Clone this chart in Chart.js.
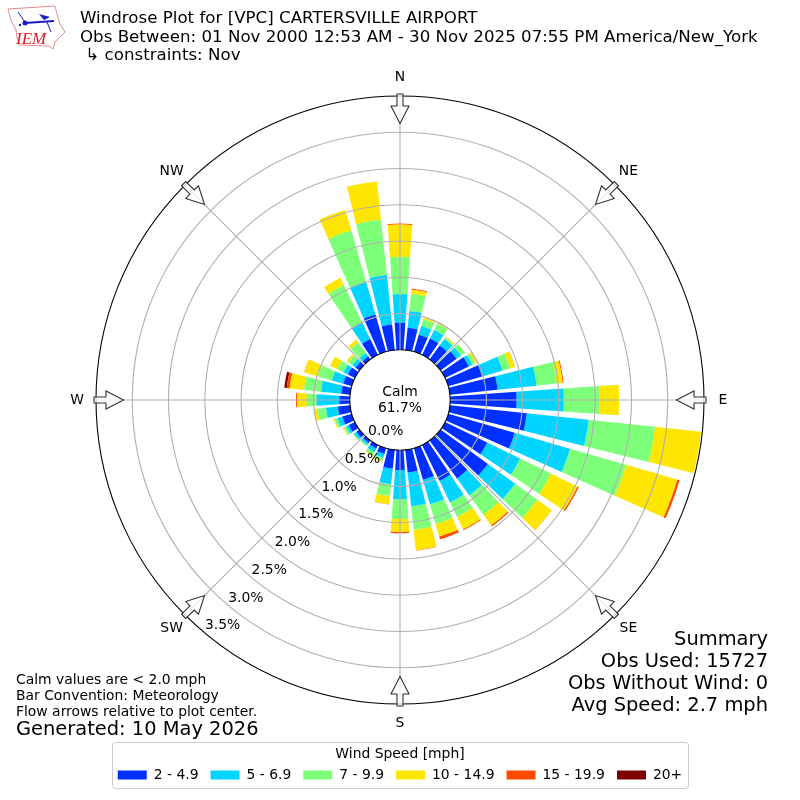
<!DOCTYPE html>
<html>
<head>
<meta charset="utf-8">
<title>Windrose</title>
<script src="https://cdn.jsdelivr.net/npm/chart.js@4"></script>
<style>
  html, body { margin: 0; padding: 0; background: #fff; }
  canvas { display: block; }
</style>
</head>
<body>
<canvas id="rose" width="800" height="800"></canvas>
<script>
// directions, every 10 degrees clockwise from north
var directions = [0,10,20,30,40,50,60,70,80,90,100,110,120,130,140,150,160,170,180,190,200,210,220,230,240,250,260,270,280,290,300,310,320,330,340,350];

// percent of observations per speed bin
var speed2 = [.373,.309,.245,.252,.238,.273,.362,.485,.661,.916,1.065,.952,.645,.807,.645,.548,.452,.314,.273,.259,.080,.052,.039,.052,.094,.135,.169,.145,.121,.121,.107,.066,.052,.245,.534,.355];
var speed5 = [.395,.234,.124,.131,.110,.077,.056,.292,.539,.651,.858,.795,.506,.466,.289,.331,.353,.468,.404,.216,.055,.055,.034,.041,.041,.069,.165,.311,.282,.165,.069,.055,.055,.248,.468,.686];
var speed7 = [.514,.234,.096,.096,.021,.067,.047,.106,.281,.496,.919,.804,.472,.377,.331,.220,.281,.324,.271,.164,.041,.041,.021,.014,.028,.041,.117,.138,.234,.198,.096,.069,.179,.579,.737,.766];
var speed10 = [.446,.061,.021,.014,.014,.004,.028,.072,.080,.266,.640,.733,.406,.240,.179,.193,.179,.282,.179,.116,.021,.014,.003,.003,.014,.014,.055,.134,.200,.197,.110,.028,.048,.110,.296,.532];
var speed15 = [.014,.014,.003,.003,.003,0,.004,.003,.014,0,0,.034,.021,.004,.021,.014,.041,.007,.018,.003,0,0,0,0,0,0,0,.014,.041,.004,0,0,0,0,0,0];
var speed20 = [0,0,0,0,0,0,0,0,0,0,0,0,0,0,0,0,0,0,0,0,0,0,0,0,0,0,0,0,.034,0,0,0,0,0,0,0];

var binNames = ["2 - 4.9", "5 - 6.9", "7 - 9.9", "10 - 14.9", "15 - 19.9", "20+"];
var binColors = ["#0030ff", "#00d4ff", "#7dff7a", "#ffe600", "#ff4a00", "#7f0000"];
var binValues = [speed2, speed5, speed7, speed10, speed15, speed20];

var ringValues = [0, 0.5, 1, 1.5, 2, 2.5, 3, 3.5];
var compass = ["N", "NE", "E", "SE", "S", "SW", "W", "NW"];

var titleLines = [
  "Windrose Plot for [VPC] CARTERSVILLE AIRPORT",
  "Obs Between: 01 Nov 2000 12:53 AM - 30 Nov 2025 07:55 PM America/New_York",
  " \u21b3 constraints: Nov"
];
var noteLines = ["Calm values are < 2.0 mph", "Bar Convention: Meteorology", "Flow arrows relative to plot center."];
var summaryLines = ["Summary", "Obs Used: 15727", "Obs Without Wind: 0", "Avg Speed: 2.7 mph"];

var axisMin = -0.692;
var barAngle = 8;
var gapAngle = 2;
var fontName = '"DejaVu Sans"';

// every direction gets a bar slot and a gap slot
var labels = [];
directions.forEach(function (d) { labels.push(d + "", ""); });

var running = directions.map(function () { return 0; });
var datasets = binValues.map(function (vals, b) {
  var data = [];
  vals.forEach(function (v, i) {
    running[i] += v;
    data.push(running[i], axisMin);
  });
  return {
    label: binNames[b],
    data: data,
    backgroundColor: binColors[b],
    borderWidth: 0,
    angle: function (ctx) { return ctx.index % 2 ? gapAngle : barAngle; }
  };
});

function text(c, str, x, y, size, align) {
  c.font = size + "px " + fontName;
  c.textAlign = align || "left";
  c.textBaseline = "middle";
  c.fillStyle = "#000";
  c.fillText(str, x, y);
}

// turn the overlapping wedges into real stacked bars
var stackBars = {
  id: "stackBars",
  afterDatasetsUpdate: function (chart) {
    var r = chart.scales.r;
    var prev = null;
    chart.data.datasets.forEach(function (ds, i) {
      var arcs = chart.getDatasetMeta(i).data;
      arcs.forEach(function (arc, j) {
        arc.innerRadius = prev ? prev[j].outerRadius : (j % 2 ? 0 : r.getDistanceFromCenterForValue(0));
      });
      prev = arcs;
    });
  }
};

function drawLogo(c) {
  c.save();
  c.strokeStyle = "#e88a8a";
  c.lineWidth = 1;
  c.beginPath();
  var outline = [[8,9],[55,6],[57,14],[60,24],[65,32],[58,39],[55,42],[53,49],[49,46],[20,45],[17,38],[16,30],[11,20]];
  outline.forEach(function (p, i) { if (i) c.lineTo(p[0], p[1]); else c.moveTo(p[0], p[1]); });
  c.closePath();
  c.stroke();
  c.strokeStyle = "#1a1ac8";
  c.fillStyle = "#1a1ac8";
  c.lineWidth = 2;
  c.beginPath(); c.moveTo(25, 23); c.lineTo(54, 21); c.stroke();
  c.lineWidth = 1;
  c.beginPath(); c.moveTo(18, 12); c.lineTo(25, 22); c.moveTo(47, 22); c.lineTo(51, 32); c.stroke();
  c.beginPath(); c.moveTo(39, 14); c.lineTo(50, 17); c.lineTo(44, 20); c.closePath(); c.fill();
  c.beginPath(); c.arc(25, 23, 2.5, 0, Math.PI * 2); c.fill();
  c.beginPath(); c.arc(20, 25, 1.2, 0, Math.PI * 2); c.fill();
  c.font = "italic 17px 'Liberation Serif'";
  c.textAlign = "left";
  c.textBaseline = "alphabetic";
  c.fillStyle = "#d42020";
  c.fillText("IEM", 16, 44);
  c.restore();
}

function drawArrow(c, cx, cy, angle, R) {
  c.save();
  c.translate(cx, cy);
  c.rotate(angle);
  // drawn pointing at the center from the top of the rose
  c.beginPath();
  c.moveTo(-3, -R - 2);
  c.lineTo(3, -R - 2);
  c.lineTo(3, -R + 10);
  c.lineTo(9, -R + 10);
  c.lineTo(0, -R + 27.5);
  c.lineTo(-9, -R + 10);
  c.lineTo(-3, -R + 10);
  c.closePath();
  c.fillStyle = "rgba(255,255,255,0.75)";
  c.fill();
  c.strokeStyle = "#333";
  c.lineWidth = 1.1;
  c.stroke();
  c.restore();
}

var decorate = {
  id: "decorate",
  afterDraw: function (chart) {
    var c = chart.ctx;
    var r = chart.scales.r;
    var cx = r.xCenter, cy = r.yCenter, R = r.drawingArea;
    var hole = r.getDistanceFromCenterForValue(0);
    c.save();

    // spokes
    c.strokeStyle = "#b0b0b0";
    c.lineWidth = 1.1;
    compass.forEach(function (name, i) {
      var a = i * Math.PI / 4;
      c.beginPath();
      c.moveTo(cx + hole * Math.sin(a), cy - hole * Math.cos(a));
      c.lineTo(cx + R * Math.sin(a), cy - R * Math.cos(a));
      c.stroke();
    });

    // arrows and compass names
    compass.forEach(function (name, i) {
      var a = i * Math.PI / 4;
      drawArrow(c, cx, cy, a, R);
      text(c, name, cx + (R + 19) * Math.sin(a), cy - (R + 19) * Math.cos(a), 13.9, "center");
    });

    // ring labels
    var lab = 220 * Math.PI / 180;
    ringValues.forEach(function (v) {
      var d = r.getDistanceFromCenterForValue(v);
      text(c, v.toFixed(1) + "%", cx + d * Math.sin(lab) + 18, cy - d * Math.cos(lab) - 7, 13.9, "center");
    });

    text(c, "Calm", cx, cy - 8, 13.9, "center");
    text(c, "61.7%", cx, cy + 8, 13.9, "center");

    // header
    drawLogo(c);
    titleLines.forEach(function (t, i) {
      text(c, t, 80, [19, 37.5, 56][i], 16.67);
    });

    // footer notes
    noteLines.forEach(function (t, i) {
      text(c, t, 16, 680 + i * 16, 13.9);
    });
    text(c, "Generated: 10 May 2026", 16, 730, 19.44);

    summaryLines.forEach(function (t, i) {
      text(c, t, 768, 640 + i * 22, 19.44, "right");
    });

    // legend frame
    c.strokeStyle = "#cccccc";
    c.lineWidth = 1;
    c.beginPath();
    c.roundRect(112.5, 742.5, 576, 46, 3);
    c.stroke();
    c.restore();
  }
};

var chart = new Chart(document.getElementById("rose").getContext("2d"), {
  type: "polarArea",
  data: { labels: labels, datasets: datasets },
  plugins: [stackBars, decorate],
  options: {
    responsive: false,
    animation: false,
    layout: { padding: { top: 96, left: 96, right: 96, bottom: 8.05 } },
    scales: {
      r: {
        min: axisMin,
        max: 3.5,
        startAngle: -barAngle / 2,
        afterBuildTicks: function (scale) {
          scale.ticks = ringValues.map(function (v) { return { value: v }; });
        },
        ticks: { display: false },
        angleLines: { display: false },
        pointLabels: { display: false },
        grid: {
          z: 1,
          circular: true,
          lineWidth: 1.1,
          color: function (ctx) {
            var v = ctx.tick ? ctx.tick.value : 1;
            return v === 0 || v === 3.5 ? "#000" : "#b0b0b0";
          }
        }
      }
    },
    plugins: {
      tooltip: { enabled: false },
      legend: {
        position: "bottom",
        title: {
          display: true,
          text: "Wind Speed [mph]",
          color: "#000",
          font: { family: fontName, size: 13.9 },
          padding: { top: 43.15, bottom: -7.85 }
        },
        labels: {
          boxWidth: 29,
          boxHeight: 9,
          padding: 12.05,
          color: "#000",
          font: { family: fontName, size: 13.9 },
          generateLabels: function (chart) {
            return chart.data.datasets.map(function (ds, i) {
              return { text: ds.label, fillStyle: ds.backgroundColor, strokeStyle: ds.backgroundColor, lineWidth: 0, datasetIndex: i, fontColor: "#000" };
            });
          }
        }
      }
    }
  }
});
</script>
</body>
</html>
